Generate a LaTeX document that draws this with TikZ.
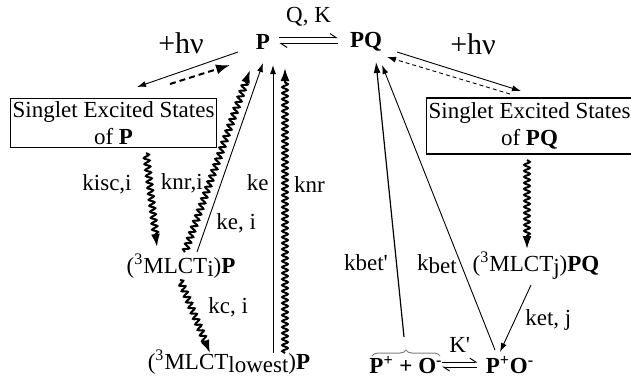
\documentclass[tikz,border=0pt]{standalone}
\usepackage{fontspec}
\setmainfont{Liberation Serif}
\usetikzlibrary{arrows.meta, positioning, calc, decorations.pathmorphing, decorations.pathreplacing}
\newcommand{\lowtxt}[1]{\raisebox{-0.3ex}{#1}}
\tikzset{
    state/.style  ={inner sep=1pt},
    ssbox/.style  ={rectangle, draw=black, line width=0.6pt, align=center, inner xsep=1pt, inner ysep=1.5pt},
    light/.style  ={inner sep=1pt, font=\fontsize{15}{17}\selectfont},
    rate/.style   ={inner sep=1pt},
    wavy/.style   ={decorate, decoration={snake, segment length=3pt, amplitude=1.4pt, post length=6pt}, line width=1pt, -{Latex[length=6.5pt, width=4.5pt]}},
    thinarr/.style={line width=0.45pt, -{Latex[length=4.5pt, width=3pt]}},
    betarr/.style ={line width=0.6pt, -{Latex[length=5.5pt, width=3.5pt]}},
    eqarr/.style  ={line width=0.5pt, -{Straight Barb[harpoon, length=3pt, width=4pt]}},
}
\begin{document}
\begin{tikzpicture}[x=0.5pt, y=-0.5pt, font=\fontsize{11.5}{13.5}\selectfont]
\useasboundingbox (0,0) rectangle (631,377);
% ground states
\node[state] (P) at (263,41.5) {\textbf{P}};
\node[state] (PQ) at (366,41.5) {\textbf{PQ}};
\node[light] (hvL) at (181,43) {+hν};
\node[light] (hvR) at (473,44) {+hν};
% singlets
\node[ssbox] (boxL) at (113.5,123) {Singlet Excited States\\of \textbf{P}};
\node[ssbox, minimum height=28pt] (boxR) at (529.5,126) {Singlet Excited States\\of \textbf{PQ}};
% triplets and charge separated
\node[state] (MLi) at (181,266) {(\textsuperscript{3}MLCT\lowtxt{i})\textbf{P}};
\node[state] (MLlow) at (229,362) {(\textsuperscript{3}MLCT\lowtxt{lowest})\textbf{P}};
\node[state] (MLj) at (536,266) {(\textsuperscript{3}MLCT\lowtxt{j})\textbf{PQ}};
\node[state] (PpO) at (406,365) {\textbf{P\textsuperscript{+} + O\textsuperscript{-}}};
\node[state] (PO) at (510,365) {\textbf{P\textsuperscript{+}O\textsuperscript{-}}};
% equilibria
\draw[eqarr] ($(P.east)+(7,-4)$) -- node[above=2pt]{Q,\ K} ($(PQ.west)+(-10,-4)$);
\draw[eqarr] ($(PQ.west)+(-10,2)$) -- ($(P.east)+(7,2)$);
\draw[eqarr] ($(PpO.east)+(-3,-3)$) -- node[above=1pt]{K\textquotesingle} ($(PO.west)+(-6,-3)$);
\draw[eqarr] ($(PO.west)+(-6,2)$) -- ($(PpO.east)+(-3,2)$);
% absorption
\draw[thinarr] ($(P)+(-25,10.5)$) -- ($(boxL)+(23.5,-36)$);
\draw[dashed, dash pattern=on 3pt off 2pt, line width=1pt, -{Latex[length=7pt, width=5pt]}] ($(boxL)+(56.5,-39)$) -- ($(P)+(-33,23.5)$);
\draw[thinarr] ($(PQ)+(31,10.5)$) -- ($(boxR)+(-8.5,-35)$);
\draw[thinarr, dash pattern=on 2pt off 1.5pt] ($(boxR)+(-19.5,-32)$) -- ($(PQ)+(21,15.5)$);
% P decays
\draw[wavy] ($(boxL)+(32.5,30)$) -- node[rate, pos=0.33, left=7.5pt]{kisc,i} ($(MLi)+(-24,-19)$);
\draw[wavy] ($(MLi)+(4,-14)$) -- node[rate, pos=0.38, left=2pt]{knr,i} ($(P)+(-13,28.5)$);
\draw[thinarr] ($(MLi)+(16,-14)$) -- node[rate, pos=0.15, right=3.5pt]{ke, i} ($(P)+(0,21.5)$);
\draw[wavy] ($(MLi)+(-1,14)$) -- node[rate, pos=0.38, right=7pt]{kc, i} ($(MLlow)+(-19,-9)$);
\draw[thinarr] ($(MLlow)+(44,-9)$) -- node[rate, pos=0.59, left=1pt]{ke} ($(P)+(10,23.5)$);
\draw[wavy] ($(MLlow)+(56,-9)$) -- node[rate, pos=0.59, right=3pt]{knr} ($(P)+(22,26.5)$);
% PQ decays
\draw[wavy] ($(boxR)+(-2.5,34)$) -- ($(MLj)+(-9,-17)$);
\draw[thinarr] ($(MLj)+(-5,19)$) -- node[rate, pos=0.52, right=4pt]{ket, j} ($(PO)+(-10,-13)$);
\draw[decorate, decoration={brace, amplitude=3pt}, gray, line width=0.5pt] ($(PpO)+(-34,-9)$) -- ($(PpO)+(34,-9)$);
\draw[betarr] ($(PpO)+(-2,-28)$) -- node[rate, pos=0.27, left=3pt]{kbet\textquotesingle} ($(PQ)+(10,20.5)$);
\draw[thinarr] ($(PO)+(-15,-15)$) -- node[rate, pos=0.3, left=1pt]{k\lowtxt{bet}} ($(PQ)+(16,23.5)$);
\end{tikzpicture}
\end{document}
